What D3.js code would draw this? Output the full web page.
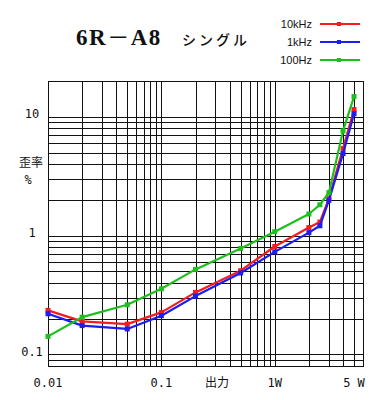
<!DOCTYPE html>
<html><head><meta charset="utf-8">
<script src="https://cdn.jsdelivr.net/npm/d3@7"></script>
<style>html,body{margin:0;padding:0;background:#fff;}svg{display:block;}</style>
</head><body>
<script>
const titleParts = ["6R", "－", "A8"];
const subtitle = "シングル";
const seriesNames = ["10kHz", "1kHz", "100Hz"];
const seriesColors = ["#f41c1c", "#1c1cf4", "#1cc01c"];
const powerW = [0.01, 0.02, 0.05, 0.1, 0.2, 0.5, 1, 2, 2.5, 3, 4, 5];
const dist10k = [0.235, 0.19, 0.18, 0.226, 0.333, 0.507, 0.81, 1.17, 1.3, 2.05, 5.4, 11.5];
const dist1k  = [0.22, 0.175, 0.164, 0.212, 0.31, 0.485, 0.73, 1.06, 1.21, 1.98, 4.9, 10.6];
const dist100 = [0.142, 0.206, 0.262, 0.357, 0.52, 0.78, 1.08, 1.52, 1.82, 2.3, 7.6, 14.8];
const xTickValues = [0.01, 0.1, 1, 5];
const xTickLabels = ["0.01", "0.1", "1W", "5 W"];
const yTickValues = [0.1, 1, 10];
const yTickLabels = ["0.1", "1", "10"];
const xTitle = "出力";
const yTitle1 = "歪率";
const yTitle2 = "%";

const W = 380, H = 400;
const svg = d3.select("body").append("svg").attr("width", W).attr("height", H);
svg.append("rect").attr("width", W).attr("height", H).attr("fill", "#fff");

const x = d3.scaleLog().domain([0.01, 6]).range([48, 363]);
const y = d3.scaleLog().domain([0.08, 20]).range([366, 81]);
const px = v => Math.round(v) + 0.5;

const grid = svg.append("g").attr("stroke", "#111").attr("stroke-width", 1).attr("shape-rendering", "crispEdges");
grid.selectAll(".vx").data(x.ticks()).join("line")
  .attr("x1", d => px(x(d))).attr("x2", d => px(x(d)))
  .attr("y1", y.range()[1]).attr("y2", y.range()[0] + 1);
grid.selectAll(".hy").data(y.ticks()).join("line")
  .attr("y1", d => px(y(d))).attr("y2", d => px(y(d)))
  .attr("x1", x.range()[0]).attr("x2", x.range()[1] + 1);
grid.append("rect").attr("x", px(x.range()[0])).attr("y", px(y.range()[1]))
  .attr("width", Math.round(x.range()[1]) - Math.round(x.range()[0]))
  .attr("height", Math.round(y.range()[0]) - Math.round(y.range()[1]))
  .attr("fill", "none");

// Axis labels
const numFont = "'DejaVu Sans Mono', monospace";
svg.selectAll(".xl").data(xTickValues).join("text")
  .attr("x", d => x(d)).attr("y", 383).attr("dy", "0.35em")
  .attr("text-anchor", "middle").attr("font-family", numFont).attr("font-size", 12)
  .attr("fill", "#111").text((d, i) => xTickLabels[i]);
svg.selectAll(".yl").data(yTickValues).join("text")
  .attr("x", 32).attr("y", d => y(d) - 3).attr("dy", "0.35em")
  .attr("text-anchor", "middle").attr("font-family", numFont).attr("font-size", 12)
  .attr("fill", "#111").text((d, i) => yTickLabels[i]);

const jpFont = "'Noto Sans CJK JP', sans-serif";
svg.append("text").attr("x", 217).attr("y", 383).attr("dy", "0.35em")
  .attr("text-anchor", "middle").attr("font-family", jpFont).attr("font-size", 12)
  .attr("fill", "#111").text(xTitle);
svg.append("text").attr("x", 31).attr("y", 163).attr("dy", "0.35em")
  .attr("text-anchor", "middle").attr("font-family", jpFont).attr("font-size", 12)
  .attr("fill", "#111").text(yTitle1);
svg.append("text").attr("x", 28).attr("y", 180).attr("dy", "0.35em")
  .attr("text-anchor", "middle").attr("font-family", numFont).attr("font-size", 12)
  .attr("fill", "#111").text(yTitle2);

// Title
const t = svg.append("text").attr("x", 76).attr("y", 45)
  .attr("font-family", "'Liberation Serif', serif").attr("font-weight", "bold")
  .attr("font-size", 23).attr("letter-spacing", 1.5).attr("fill", "#111");
t.append("tspan").text(titleParts[0]);
t.append("tspan").attr("font-family", jpFont).attr("font-weight", "normal")
  .attr("font-size", 22).text(titleParts[1]);
t.append("tspan").text(titleParts[2]);
svg.append("text").attr("x", 182).attr("y", 45)
  .attr("font-family", jpFont).attr("font-size", 14).attr("font-weight", 500).attr("letter-spacing", 3)
  .attr("fill", "#111").text(subtitle);

// Series
const series = [dist10k, dist1k, dist100];
const line = d3.line().x((d, i) => x(powerW[i])).y(d => y(d));
series.forEach((vals, k) => {
  const g = svg.append("g");
  g.append("path").datum(vals).attr("d", line).attr("fill", "none")
    .attr("stroke", seriesColors[k]).attr("stroke-width", 2.2).attr("stroke-linejoin", "round");
  g.selectAll("rect").data(vals).join("rect")
    .attr("x", (d, i) => x(powerW[i]) - 2.5).attr("y", d => y(d) - 2.5)
    .attr("width", 5).attr("height", 5).attr("fill", seriesColors[k]);
});

// Legend
seriesNames.forEach((name, k) => {
  const ly = 24 + k * 18;
  svg.append("text").attr("x", 312).attr("y", ly).attr("dy", "0.35em")
    .attr("text-anchor", "end").attr("font-family", "'Liberation Sans', sans-serif")
    .attr("font-size", 11).attr("fill", "#111").text(name);
  svg.append("line").attr("x1", 320).attr("x2", 360).attr("y1", ly).attr("y2", ly)
    .attr("stroke", seriesColors[k]).attr("stroke-width", 2);
  svg.append("rect").attr("x", 337).attr("y", ly - 2).attr("width", 4).attr("height", 4)
    .attr("fill", seriesColors[k]);
});
</script>
</body></html>
